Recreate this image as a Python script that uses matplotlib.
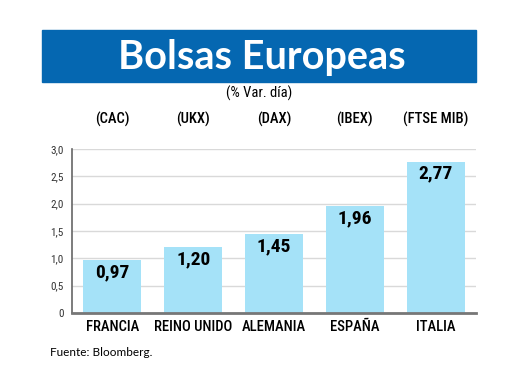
import matplotlib.pyplot as plt
from matplotlib import font_manager
from matplotlib.patches import Rectangle

# ---------- datos ----------
paises = ['FRANCIA', 'REINO UNIDO', 'ALEMANIA', 'ESPAÑA', 'ITALIA']
indices = ['(CAC)', '(UKX)', '(DAX)', '(IBEX)', '(FTSE MIB)']
variacion = [0.97, 1.20, 1.45, 1.96, 2.77]
yticks = [0, 0.5, 1.0, 1.5, 2.0, 2.5, 3.0]
ytick_labels = ['0', '0,5', '1,0', '1,5', '2,0', '2,5', '3,0']

AZUL = '#0567b1'
CELESTE = '#a5e2f8'

# fuente estrecha si existe
nombres = {f.name for f in font_manager.fontManager.ttflist}
NARROW = 'DejaVu Sans'
STRETCH = 'condensed'
for cand in ['Liberation Sans Narrow', 'Roboto Condensed', 'Open Sans Condensed']:
    if cand in nombres:
        NARROW = cand
        break

fig = plt.figure(figsize=(5.2, 3.9), dpi=100)

# banda del titulo
fig.patches.append(Rectangle((42 / 520, 1 - 82 / 390), 434 / 520, 52 / 390,
                             transform=fig.transFigure, color=AZUL, zorder=0))
fig.text(262 / 520, 1 - 57 / 390, 'Bolsas Europeas', color='white',
         fontsize=28.5, fontweight='bold', family='Lato',
         ha='center', va='center')
fig.text(259 / 520, 1 - 93 / 390, '(% Var. día)', fontsize=10.5,
         family=NARROW, stretch=STRETCH, ha='center', va='center')

ax = fig.add_axes([72 / 520, 1 - 313 / 390, 404 / 520, 164 / 390])
x = range(len(paises))
ax.bar(x, variacion, width=0.72, color=CELESTE, zorder=2)

for xi, v in zip(x, variacion):
    ax.text(xi, v - 0.06, f'{v:.2f}'.replace('.', ','), ha='center', va='top',
            fontsize=14, fontweight='bold', family=NARROW, stretch=STRETCH,
            zorder=3)

for xi, t in zip(x, indices):
    ax.text(xi, 1.18, t, transform=ax.get_xaxis_transform(), fontsize=10.5,
            family=NARROW, stretch=STRETCH, fontweight='medium',
            ha='center', va='center')

ax.set_xlim(-0.5, 4.5)
ax.set_ylim(0, 3.0)
ax.set_yticks(yticks)
ax.set_yticklabels(ytick_labels, fontsize=8, family=NARROW, stretch=STRETCH,
                   color='#333333')
ax.set_xticks(list(x))
ax.set_xticklabels(paises, fontsize=10.5, family=NARROW, stretch=STRETCH,
                   fontweight='medium')
ax.tick_params(axis='x', length=0, pad=5)
ax.tick_params(axis='y', length=0, pad=6)
ax.yaxis.grid(True, color='#d9d9d9', linewidth=1, zorder=0)
ax.set_axisbelow(True)
for s in ['top', 'right']:
    ax.spines[s].set_visible(False)
ax.spines['left'].set_color('#666666')
ax.spines['left'].set_linewidth(1.2)
ax.spines['bottom'].set_color('#777777')
ax.spines['bottom'].set_linewidth(2)

fig.text(50 / 520, 1 - 352 / 390, 'Fuente: Bloomberg.', fontsize=8.5,
         family='Lato', ha='left', va='center')

fig.savefig('out.png', dpi=100)
